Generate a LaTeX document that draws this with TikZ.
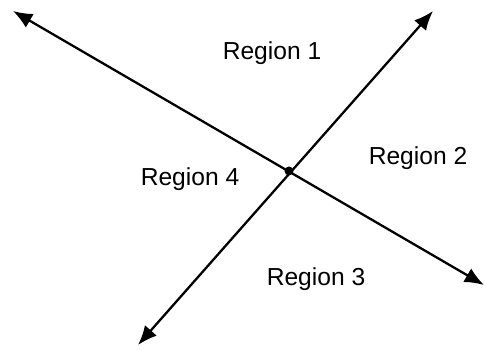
\documentclass[tikz,border=0pt]{standalone}
\usepackage{fontspec}
\setmainfont{Liberation Sans}
\usetikzlibrary{arrows.meta}

\begin{document}
\begin{tikzpicture}[
    x=0.02cm, y=-0.02cm,
    axis/.style={line width=1.3pt, {Latex[length=11pt,width=9pt]}-{Latex[length=11pt,width=9pt]}},
    region/.style={font=\fontsize{14}{16}\selectfont}
  ]
  \useasboundingbox (0,0) rectangle (485,351);
  % end points of the two lines
  \coordinate (tl) at (13,11);
  \coordinate (br) at (484,285);
  \coordinate (tr) at (433,11);
  \coordinate (bl) at (138,345);
  \coordinate (o) at (289,171);

  \draw[axis] (tl) -- (br);
  \draw[axis] (bl) -- (tr);
  \fill (o) circle (0.09cm);

  % labels
  \node[region] (r1) at (272,53) {Region 1};
  \node[region] (r2) at (418,158) {Region 2};
  \node[region] (r3) at (316,279) {Region 3};
  \node[region] (r4) at (190,179) {Region 4};
\end{tikzpicture}
\end{document}
